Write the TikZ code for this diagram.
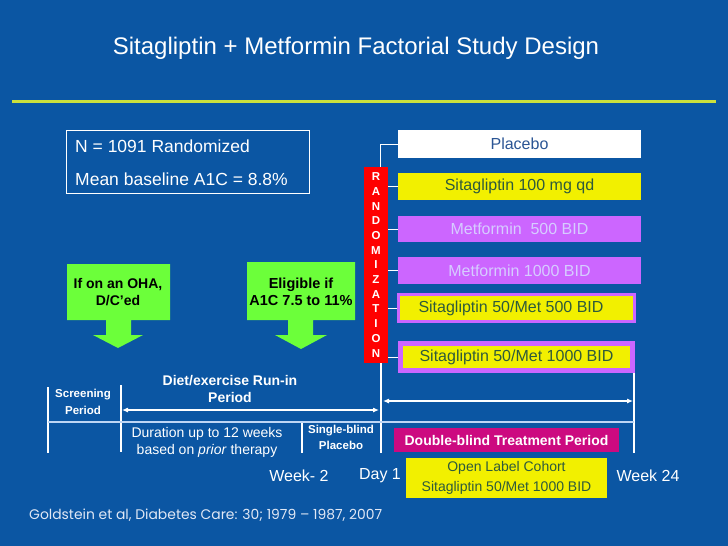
\documentclass[tikz,border=0pt]{standalone}
\usepackage{fontspec}
\setmainfont{Liberation Sans}
\newfontfamily\reffont{Poppins}
\usetikzlibrary{arrows.meta}
\definecolor{bgblue}{RGB}{11,86,163}
\definecolor{rule}{RGB}{204,224,60}
\definecolor{armyellow}{RGB}{242,240,0}
\definecolor{armpurple}{RGB}{204,102,255}
\definecolor{lavtext}{RGB}{214,204,255}
\definecolor{greentext}{RGB}{46,90,60}
\definecolor{pltext}{RGB}{43,85,148}
\definecolor{magbox}{RGB}{204,10,128}
\definecolor{lime}{RGB}{108,255,58}
\definecolor{paleline}{RGB}{190,214,245}
\definecolor{reftext}{RGB}{225,232,245}
\tikzset{
  arm/.style={rectangle, inner sep=0pt, minimum width=243pt, minimum height=27pt, font=\fontsize{16}{18}\selectfont},
  wline/.style={draw=white, line width=1.1pt},
  conn/.style={draw=white, line width=1pt},
  darrow/.style={draw=white, line width=1.1pt, {Latex[length=6pt,width=5pt]}-{Latex[length=6pt,width=5pt]}},
  lbl/.style={text=white, inner sep=0pt, align=center},
  greenarrow/.style={fill=lime, draw=none}
}
\begin{document}
\begin{tikzpicture}[x=1pt,y=-1pt]
\fill[bgblue] (0,0) rectangle (728,546);
\useasboundingbox (0,0) rectangle (728,546);

% title and rule
\node[lbl, font=\fontsize{24}{28}\selectfont] (title) at (356,48) {Sitagliptin + Metformin Factorial Study Design};
\coordinate (ruleL) at (12,101);
\coordinate (ruleR) at (716,101);
\draw[rule, line width=3pt] (ruleL) -- (ruleR);

% N box
\node[draw=white, line width=0.8pt, minimum width=243pt, minimum height=63pt, inner sep=0pt] (nbox) at (187.5,161.5) {};
\node[lbl, anchor=west, font=\fontsize{17.5}{20}\selectfont] (n1) at (75,146) {N = 1091 Randomized};
\node[lbl, anchor=west, font=\fontsize{17.5}{20}\selectfont] (n2) at (75,179) {Mean baseline A1C = 8.8\%};

% arms
\node[arm, fill=white, text=pltext, minimum height=28pt] (pl) at (519.5,144) {Placebo};
\node[arm, fill=armyellow, text=greentext] (s100) at (519.5,186.5) {Sitagliptin 100 mg qd};
\node[arm, fill=armpurple, text=lavtext, minimum height=26pt] (m500) at (519.5,229) {Metformin\ \ 500 BID};
\node[arm, fill=armpurple, text=lavtext] (m1000) at (519.5,270.5) {Metformin 1000 BID};
\node[arm, fill=armpurple, minimum width=239pt, minimum height=30pt] (c500) at (516.5,308) {};
\node[arm, fill=armyellow, minimum width=233pt, minimum height=24pt] (c500i) at (516.5,308) {};
\node[lbl, text=greentext, font=\fontsize{16}{18}\selectfont] (c500t) at (511,308) {Sitagliptin 50/Met 500 BID};
\node[arm, fill=armpurple, minimum width=237pt, minimum height=32pt] (c1000) at (516.5,357) {};
\node[arm, fill=armyellow, text=greentext, minimum width=227pt, minimum height=22pt] (c1000i) at (516.5,357) {Sitagliptin 50/Met 1000 BID};

% randomization bar
\node[fill=red, minimum width=24pt, minimum height=196pt, inner sep=0pt] (rand) at (376,265) {};
\foreach \l [count=\i from 0] in {R,A,N,D,O,M,I,Z,A,T,I,O,N}{
  \node[lbl, font=\bfseries\fontsize{11.5}{12}\selectfont] (r\i) at (376,177+\i*14.67) {\l};
}

% connectors from bar to arms
\draw[conn] ([xshift=4pt]rand.north) |- (pl.west);
\draw[conn] (rand.east |- s100.west) -- (s100.west);
\draw[conn] (rand.east |- m500.west) -- (m500.west);
\draw[conn] (rand.east |- m1000.west) -- (m1000.west);
\draw[conn] (rand.east |- c500.west) -- (c500.west);
\draw[conn] (rand.east |- c1000.west) -- (c1000.west);

% green arrows
\fill[greenarrow] (67,264) -- (170,264) -- (170,320) -- (131,320) -- (131,335) -- (143,335) -- (118,348) -- (93,335) -- (106,335) -- (106,320) -- (67,320) -- cycle;
\fill[greenarrow] (247,262) -- (355,262) -- (355,320) -- (313,320) -- (313,335) -- (327,335) -- (301,349) -- (275,335) -- (288,335) -- (288,320) -- (247,320) -- cycle;
\node[inner sep=0pt, align=center, font=\bfseries\fontsize{14}{17}\selectfont] (oha) at (118,292.5) {If on an OHA,\\D/C’ed};
\node[inner sep=0pt, align=center, font=\bfseries\fontsize{14.5}{17}\selectfont] (elig) at (301,291.5) {Eligible if\\A1C 7.5 to 11\%};

% timeline
\coordinate (a0) at (48,387);  \coordinate (a1) at (48,453);
\coordinate (b0) at (121,385); \coordinate (b1) at (121,452);
\coordinate (c0) at (302,422); \coordinate (c1) at (302,453);
\coordinate (d1) at (381,453);
\coordinate (e1) at (634,453);
\coordinate (hl) at (48,422);  \coordinate (hr) at (634,422);
\draw[wline] (a0) -- (a1);
\draw[wline] (b0) -- (b1);
\draw[wline] (c0) -- (c1);
\draw[wline] (rand.south -| d1) -- (d1);
\draw[wline] (c1000.south -| e1) -- (e1);
\draw[draw=paleline, line width=1.3pt] (hl) -- (hr);
\coordinate (la) at (122,410); \coordinate (lb) at (379,410);
\coordinate (ra) at (383,401); \coordinate (rb) at (633,401);
\draw[darrow] (la) -- (lb);
\draw[darrow] (ra) -- (rb);

% timeline labels
\node[lbl, font=\bfseries\fontsize{11.5}{16.5}\selectfont] (scr) at (83,402) {Screening\\Period};
\node[lbl, font=\bfseries\fontsize{14}{16.5}\selectfont] (diet) at (230,389) {Diet/exercise Run-in\\Period};
\node[lbl, font=\fontsize{14}{17}\selectfont] (dur) at (207,442.5) {Duration up to 12 weeks\\based on \textit{prior} therapy};
\node[lbl, font=\bfseries\fontsize{11.5}{15.5}\selectfont] (sbl) at (341,437.5) {Single-blind\\Placebo};
\node[fill=magbox, text=white, inner sep=0pt, minimum width=225pt, minimum height=24pt, font=\bfseries\fontsize{14}{16}\selectfont] (dbl) at (506.5,440) {Double-blind Treatment Period};
\node[fill=armyellow, text=greentext, inner sep=0pt, minimum width=201pt, minimum height=40pt, align=center, font=\fontsize{14}{20}\selectfont] (ol) at (506.5,478) {Open Label Cohort\\Sitagliptin 50/Met 1000 BID};
\node[lbl, font=\fontsize{16}{18}\selectfont] (wk2) at (299,476) {Week- 2};
\node[lbl, font=\fontsize{16}{18}\selectfont] (day1) at (380,476) {Day 1};
\node[lbl, font=\fontsize{16}{18}\selectfont] (wk24) at (648,476) {Week 24};

% reference
\node[inner sep=0pt, anchor=west, text=reftext, font=\reffont\fontsize{13.9}{15}\selectfont] (ref) at (29,515) {Goldstein et al, Diabetes Care: 30; 1979 – 1987, 2007};
\end{tikzpicture}
\end{document}
